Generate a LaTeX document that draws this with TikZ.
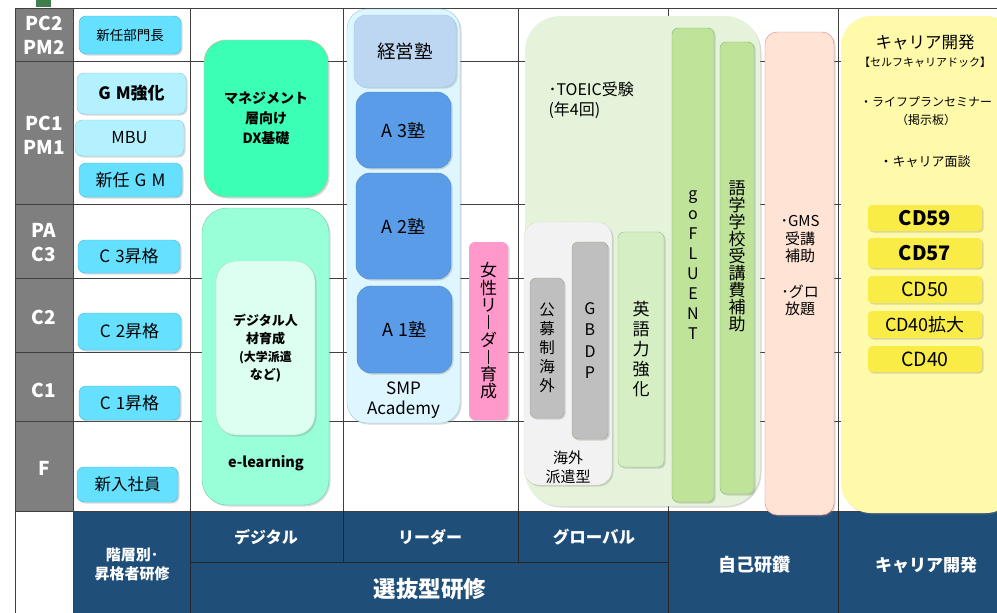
\documentclass[tikz,border=0pt]{standalone}
\usepackage{fontspec}
\usepackage{graphicx}
\setmainfont{Noto Sans CJK JP}
\usetikzlibrary{shadows}

\definecolor{lvlgray}{HTML}{7F7F7F}
\definecolor{navy}{HTML}{1F4E79}
\definecolor{gridc}{HTML}{404040}
\definecolor{topmark}{HTML}{3E7D4C}
\definecolor{kaiso}{HTML}{66E0FF}
\definecolor{kaisolt}{HTML}{B4F1FF}
\definecolor{kaisoedge}{HTML}{47B4DC}
\definecolor{dxfill}{HTML}{3CFFB6}
\definecolor{dxedge}{HTML}{D6B28A}
\definecolor{mint}{HTML}{99FFD8}
\definecolor{mintedge}{HTML}{70CFA2}
\definecolor{mintlt}{HTML}{DCFFF1}
\definecolor{smpfill}{HTML}{DDF6FF}
\definecolor{smpedge}{HTML}{9CC8EC}
\definecolor{keiei}{HTML}{BDD7F2}
\definecolor{juku}{HTML}{5A9CE8}
\definecolor{jukuedge}{HTML}{4A86C8}
\definecolor{josei}{HTML}{FF99CC}
\definecolor{glfill}{HTML}{E5F3DA}
\definecolor{hakenfill}{HTML}{F2F2F2}
\definecolor{hakenedge}{HTML}{A0BE88}
\definecolor{haken}{HTML}{BFBFBF}
\definecolor{hakenbox}{HTML}{94AC86}
\definecolor{eigo}{HTML}{D5EEC3}
\definecolor{eigoedge}{HTML}{86C896}
\definecolor{gofl}{HTML}{C0E39A}
\definecolor{gofledge}{HTML}{7DB86A}
\definecolor{peach}{HTML}{FFE4D5}
\definecolor{peachedge}{HTML}{F47C7C}
\definecolor{cafill}{HTML}{FFFAAA}
\definecolor{cdfill}{HTML}{F9EC46}

\tikzset{shdw/.style = {drop shadow={opacity=0.3, shadow xshift=1.5pt, shadow yshift=-1.5pt}}}
\tikzset{fs/.style 2 args = {font=\fontsize{#1}{#2}\selectfont}}
\tikzset{fsb/.style 2 args = {font=\fontsize{#1}{#2}\selectfont\bfseries}}
\tikzset{rbox/.style = {rounded corners=#1, inner sep=0, align=center, shdw}}
\tikzset{lvl/.style = {text=white, align=center, fsb={19}{24}}}
\tikzset{band/.style = {text=white, align=center}}
\tikzset{kbox/.style = {rbox=7pt, draw=kaisoedge, fill=kaiso}}
\tikzset{klbox/.style = {rbox=7pt, draw=kaisoedge!70, fill=kaisolt}}
\tikzset{jbox/.style = {rbox=14pt, draw=jukuedge, fill=juku}}
\tikzset{gbox/.style = {rbox=6pt, draw=hakenbox, fill=haken}}
\tikzset{flbox/.style = {rbox=6pt, draw=gofledge, fill=gofl}}
\tikzset{cdbox/.style = {rbox=4pt, fill=cdfill, minimum width=114}}

\newcommand{\chobar}{\rule[-0.02em]{0.065em}{0.8em}}
\newcommand{\gap}{\hspace{0.3em}}

\begin{document}
\begin{tikzpicture}[x=1pt, y=-1pt]
  \useasboundingbox (0,0) rectangle (997,613);

  % level column and bottom band
  \fill[lvlgray] (15,8) rectangle (73,511);
  \fill[navy] (73,511) rectangle (997,613);
  \fill[topmark] (36,0) rectangle (51,7);

  % grid
  \foreach \y in {8,61,204,278,352,421,511}
    \draw[gridc, line width=0.8] (15,\y) -- (997,\y);
  \foreach \x in {190,343,518,668,838}
    \draw[gridc, line width=0.8] (\x,8) -- (\x,511);
  \draw[gridc, line width=0.8] (15,8) -- (15,613);
  \draw[gridc, line width=0.8] (73,8) -- (73,613);
  \draw[black!85, line width=0.8] (190,511) -- (190,613) (668,511) -- (668,613) (838,511) -- (838,613)
    (343,511) -- (343,562) (518,511) -- (518,562) (190,562) -- (668,562);

  % levels
  \node[lvl] (lvpc2) at (44,35)  {PC2\\PM2};
  \node[lvl] (lvpc1) at (44,135) {PC1\\PM1};
  \node[lvl] (lvpa)  at (44,243) {PA\\C3};
  \node[lvl] (lvc2)  at (44,317) {C2};
  \node[lvl] (lvc1)  at (44,390) {C1};
  \node[lvl] (lvf)   at (44,468) {F};

  % kaiso
  \node[kbox, minimum width=102, minimum height=38, fs={13.5}{16}] (bumon) at (130,35) {新任部門長};
  \node[klbox, minimum width=109, minimum height=41, fsb={17}{19}] (gmkyo) at (131.5,93.5) {G\gap M強化};
  \node[klbox, minimum width=109, minimum height=36, fs={16.5}{18}] (mbu) at (129.5,138) {MBU};
  \node[kbox, minimum width=103, minimum height=34, fs={17}{19}] (shingm) at (130.5,180) {新任\gap G\gap M};
  \node[kbox, minimum width=102, minimum height=33, fs={17}{19}] (c3sho) at (129,256.5) {C\gap 3昇格};
  \node[kbox, minimum width=103, minimum height=37, fs={17}{19}] (c2sho) at (129.5,331.5) {C\gap 2昇格};
  \node[kbox, minimum width=101, minimum height=34, fs={17}{19}] (c1sho) at (129.5,403) {C\gap 1昇格};
  \node[kbox, minimum width=101, minimum height=35, fs={16.5}{19}] (shinnyu) at (127.5,484.5) {新入社員};

  % digital
  \node[rbox=22pt, draw=dxedge, fill=dxfill, minimum width=124, minimum height=157, fsb={14}{20}] (dxkiso) at (266,118.5) {マネジメント\\層向け\\DX基礎};
  \node[rbox=25pt, draw=mintedge, fill=mint, minimum width=127, minimum height=297] (elearn) at (265.5,356.5) {};
  \node[rbox=20pt, draw=mintedge!70, fill=mintlt, minimum width=99, minimum height=174, fsb={13}{18}] (jinzai) at (265.5,348)
    {デジタル人\\材育成\\\fontsize{12}{15.5}\selectfont (大学派遣\\など)};
  \node[fsb={14.5}{16}] (elabel) at (266,463) {e-learning};

  % leader
  \node[rbox=20pt, draw=smpedge, fill=smpfill, minimum width=113, minimum height=414] (smp) at (403.5,216) {};
  \node[rbox=12pt, draw=smpedge, fill=keiei, minimum width=102, minimum height=72, fs={18.5}{20}] (keiei) at (405,51) {経営塾};
  \node[jbox, minimum width=95, minimum height=76, fs={18}{20}] (a3) at (403.5,130) {A\gap 3塾};
  \node[jbox, minimum width=95, minimum height=106, fs={18}{20}] (a2) at (403.5,226) {A\gap 2塾};
  \node[jbox, minimum width=95, minimum height=87, fs={18}{20}] (a1) at (404.5,329.5) {A\gap 1塾};
  \node[fs={17}{20}, align=center] (smplabel) at (403.5,400) {SMP\\Academy};
  \node[rbox=6pt, fill=josei, minimum width=39, minimum height=178, fs={17}{17.3}] (josei) at (488.5,331)
    {女\\性\\リ\\\chobar\\ダ\\\chobar\\育\\成};

  % global
  \node[rbox=35pt, fill=glfill, minimum width=235, minimum height=490] (global) at (642.5,261) {};
  \node[anchor=west, align=left, fs={16}{20}] (toeic) at (545,100) {･TOEIC受験\\(年4回)};
  \node[rbox=15pt, draw=hakenedge, densely dotted, fill=hakenfill, minimum width=88, minimum height=263] (haken) at (568,353.5) {};
  \node[fs={15}{19}, align=center] (hakenlabel) at (568,467) {海外\\派遣型};
  \node[gbox, minimum width=34, minimum height=140, fs={15.5}{19}] (kobo) at (547,348) {公\\募\\制\\海\\外};
  \node[gbox, minimum width=36, minimum height=197, fs={16}{21.5}] (gbdp) at (590,340.5) {G\\B\\D\\P};
  \node[rbox=6pt, draw=eigoedge, fill=eigo, minimum width=46, minimum height=235, fs={17}{20}] (eigo) at (641,349.5) {英\\語\\力\\強\\化};
  \node[flbox, minimum width=42, minimum height=474, fs={16}{20}] (gofl) at (693,265) {g\\o\\F\\L\\U\\E\\N\\T};
  \node[flbox, minimum width=34, minimum height=452] (gogaku) at (737,268) {};
  \node[fs={17}{17}, align=center] (gogakutxt) at (737,256) {語\\学\\学\\校\\受\\講\\費\\補\\助};

  % jiko kensan
  \node[rbox=12pt, draw=peachedge, fill=peach, minimum width=69, minimum height=483] (gms) at (799.5,273.5) {};
  \node[fs={15}{17.5}, align=center] (gmstxt) at (800,266) {･GMS\\受講\\補助\\[18pt]･グロ\\放題};

  % career
  \node[rbox=30pt, fill=cafill, minimum width=175, minimum height=497] (career) at (928.5,264.5) {};
  \node[fs={16.5}{20}] (cattl) at (925,42) {キャリア開発};
  \node[fs={11}{13}] (cadock) at (925,62) {【セルフキャリアドック】};
  \node[fs={12}{18}, align=center] (calife) at (926,111) {・ライフプランセミナー\\（掲示板）};
  \node[fs={13}{15}] (camen) at (925,162) {・キャリア面談};
  \node[cdbox, minimum height=26, fsb={20}{22}] (cd59) at (925,218) {CD59};
  \node[cdbox, minimum height=30, fsb={20}{22}] (cd57) at (925,253) {CD57};
  \node[cdbox, minimum height=27, fs={19.5}{22}] (cd50) at (925,289.5) {CD50};
  \node[cdbox, minimum height=27, fs={18}{22}] (cd40k) at (925,324.5) {CD40拡大};
  \node[cdbox, minimum height=26, fs={19.5}{22}] (cd40) at (925,359) {CD40};

  % band labels
  \node[band, fsb={15}{19}] (bkaiso) at (132,564) {階層別･\\昇格者研修};
  \node[band, fsb={16}{18}] (bdigi) at (266,537) {デジタル};
  \node[band, fsb={16}{18}] (blead) at (430,537) {リーダー};
  \node[band, fsb={16.5}{18}] (bglob) at (594,537) {グローバル};
  \node[band, fsb={22.5}{24}] (bsenb) at (430,589) {選抜型研修};
  \node[band, fsb={18}{20}] (bjiko) at (754,565) {自己研鑽};
  \node[band, fsb={17}{20}] (bcare) at (926,565) {キャリア開発};
\end{tikzpicture}
\end{document}
